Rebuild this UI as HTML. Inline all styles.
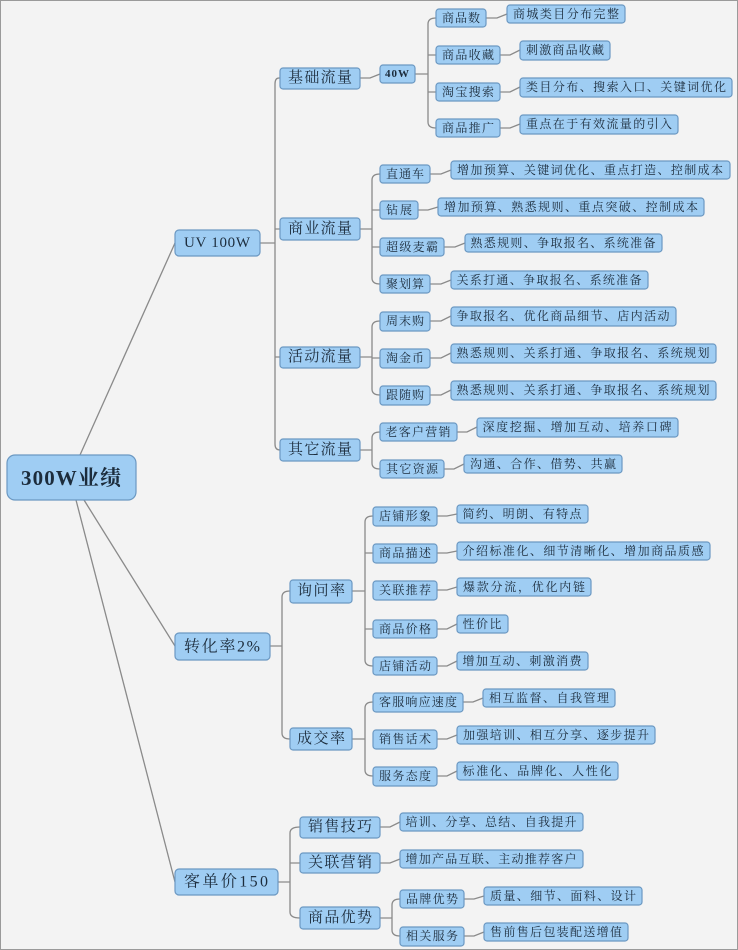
<!DOCTYPE html>
<html><head><meta charset="utf-8"><style>
html,body{margin:0;padding:0;background:#f3f3f3;}
svg{display:block;}
text{font-family:"Liberation Serif","Noto Serif CJK SC","Noto Sans CJK SC",serif;fill:#1c2c3c;dominant-baseline:central;text-anchor:middle;}
rect{fill:#9fcdf3;stroke:#6b98c2;stroke-width:1.2;}
.l{fill:none;stroke:#8a8a8a;stroke-width:1.3;}
</style></head><body>
<svg width="738" height="950" viewBox="0 0 738 950" xmlns="http://www.w3.org/2000/svg">
<rect x="0.5" y="0.5" width="737" height="949" style="fill:#f3f3f3;stroke:#9a9a9a;stroke-width:1"/>
<!-- connectors -->
<g class="l">
<path class="l" d="M80 455 L175 243"/>
<path class="l" d="M84 500 L175 646"/>
<path class="l" d="M76 500 L175 882"/>
<path class="l" d="M260 243 H275 M280 78 H279 Q275 78 275 84 V444 Q275 450 280 450 M275 229 H280 M275 357 H280"/>
<path class="l" d="M360 78 H370 L380 74"/>
<path class="l" d="M415 74 H428 M436 18 Q428 18 428 24 V122 Q428 128 436 128 M428 55 H436 M428 92 H436"/>
<path class="l" d="M486 18 H497 L507 14 M500 55 H510 L520 50 M500 92 H510 L520 87 M500 128 H510 L520 124"/>
<path class="l" d="M360 229 H372 M380 174 Q372 174 372 180 V278 Q372 284 380 284 M372 210 H380 M372 247 H380"/>
<path class="l" d="M430 174 H441 L451 170 M418 210 H428 L438 207 M444 247 H455 L465 243 M430 284 H441 L451 280"/>
<path class="l" d="M360 357 H372 M380 321 Q372 321 372 327 V389 Q372 395 380 395 M372 358 H380"/>
<path class="l" d="M430 321 H441 L451 316 M430 358 H441 L451 353 M430 395 H441 L451 390"/>
<path class="l" d="M360 450 H372 M380 432 Q372 432 372 438 V463 Q372 469 380 469"/>
<path class="l" d="M457 432 H467 L477 427 M444 469 H454 L464 464"/>
<path class="l" d="M270 646 H282 M290 591 Q282 591 282 597 V733 Q282 739 290 739"/>
<path class="l" d="M352 591 H365 M373 516 Q365 516 365 522 V660 Q365 666 373 666 M365 553 H373 M365 629 H373"/>
<path class="l" d="M437 516 H447 L457 514 M437 553 H447 L457 551 M437 590 H447 L457 587 M437 629 H447 L457 624 M437 666 H447 L457 661"/>
<path class="l" d="M352 739 H365 M373 702 Q365 702 365 708 V770 Q365 776 373 776"/>
<path class="l" d="M463 702 H473 L483 698 M437 739 H447 L457 735 M437 776 H447 L457 771"/>
<path class="l" d="M278 882 H290 M300 827 Q290 827 290 833 V912 Q290 918 300 918 M290 863 H300"/>
<path class="l" d="M380 827 H390 L400 822 M380 863 H390 L400 859"/>
<path class="l" d="M380 918 H392 M400 899 Q392 899 392 905 V930 Q392 936 400 936"/>
<path class="l" d="M464 899 H474 L484 896 M464 936 H474 L484 932"/>
</g>
<!-- nodes -->
<rect x="7" y="455" width="129" height="45" rx="8"/><text x="71" y="478" font-size="21" font-weight="bold" textLength="100">300W业绩</text>
<rect x="175" y="230" width="85" height="26" rx="4"/><text x="217" y="243" font-size="15" textLength="66">UV 100W</text>
<rect x="175" y="633" width="95" height="27" rx="4"/><text x="222" y="647" font-size="16" textLength="76">转化率2%</text>
<rect x="175" y="869" width="103" height="26" rx="4"/><text x="226" y="882" font-size="16" textLength="84">客单价150</text>

<rect x="280" y="68" width="80" height="21" rx="3"/><text x="320" y="78" font-size="15" textLength="64">基础流量</text>
<rect x="380" y="65" width="35" height="18" rx="3"/><text x="397" y="74" font-size="11" font-weight="bold" textLength="24">40W</text>
<rect x="436" y="9" width="50" height="18" rx="3"/><text x="461" y="18" font-size="12" textLength="38">商品数</text>
<rect x="436" y="46" width="64" height="18" rx="3"/><text x="468" y="55" font-size="12" textLength="52">商品收藏</text>
<rect x="436" y="83" width="64" height="18" rx="3"/><text x="468" y="92" font-size="12" textLength="52">淘宝搜索</text>
<rect x="436" y="119" width="64" height="18" rx="3"/><text x="468" y="128" font-size="12" textLength="52">商品推广</text>
<rect x="507" y="5" width="118" height="18" rx="3"/><text x="566" y="14" font-size="12" textLength="106">商城类目分布完整</text>
<rect x="520" y="41" width="90" height="19" rx="3"/><text x="565" y="50" font-size="12" textLength="78">刺激商品收藏</text>
<rect x="520" y="78" width="212" height="19" rx="3"/><text x="626" y="87" font-size="12" textLength="200">类目分布、搜索入口、关键词优化</text>
<rect x="520" y="115" width="158" height="19" rx="3"/><text x="599" y="124" font-size="12" textLength="146">重点在于有效流量的引入</text>

<rect x="280" y="218" width="80" height="22" rx="3"/><text x="320" y="229" font-size="15" textLength="64">商业流量</text>
<rect x="380" y="165" width="50" height="18" rx="3"/><text x="405" y="174" font-size="12" textLength="38">直通车</text>
<rect x="380" y="201" width="38" height="18" rx="3"/><text x="399" y="210" font-size="12" textLength="26">钻展</text>
<rect x="380" y="238" width="64" height="18" rx="3"/><text x="412" y="247" font-size="12" textLength="52">超级麦霸</text>
<rect x="380" y="275" width="50" height="18" rx="3"/><text x="405" y="284" font-size="12" textLength="38">聚划算</text>
<rect x="451" y="161" width="279" height="18" rx="3"/><text x="590" y="170" font-size="12" textLength="266">增加预算、关键词优化、重点打造、控制成本</text>
<rect x="438" y="198" width="266" height="18" rx="3"/><text x="571" y="207" font-size="12" textLength="254">增加预算、熟悉规则、重点突破、控制成本</text>
<rect x="465" y="234" width="197" height="18" rx="3"/><text x="563" y="243" font-size="12" textLength="185">熟悉规则、争取报名、系统准备</text>
<rect x="451" y="271" width="197" height="18" rx="3"/><text x="549" y="280" font-size="12" textLength="185">关系打通、争取报名、系统准备</text>

<rect x="280" y="347" width="80" height="21" rx="3"/><text x="320" y="357" font-size="15" textLength="64">活动流量</text>
<rect x="380" y="312" width="50" height="19" rx="3"/><text x="405" y="321" font-size="12" textLength="38">周末购</text>
<rect x="380" y="349" width="50" height="19" rx="3"/><text x="405" y="358" font-size="12" textLength="38">淘金币</text>
<rect x="380" y="386" width="50" height="19" rx="3"/><text x="405" y="395" font-size="12" textLength="38">跟随购</text>
<rect x="451" y="307" width="225" height="19" rx="3"/><text x="563" y="316" font-size="12" textLength="213">争取报名、优化商品细节、店内活动</text>
<rect x="451" y="344" width="265" height="19" rx="3"/><text x="583" y="353" font-size="12" textLength="253">熟悉规则、关系打通、争取报名、系统规划</text>
<rect x="451" y="381" width="265" height="19" rx="3"/><text x="583" y="390" font-size="12" textLength="253">熟悉规则、关系打通、争取报名、系统规划</text>

<rect x="280" y="439" width="80" height="22" rx="3"/><text x="320" y="450" font-size="15" textLength="64">其它流量</text>
<rect x="380" y="423" width="77" height="18" rx="3"/><text x="418" y="432" font-size="12" textLength="65">老客户营销</text>
<rect x="380" y="460" width="64" height="18" rx="3"/><text x="412" y="469" font-size="12" textLength="52">其它资源</text>
<rect x="477" y="418" width="201" height="19" rx="3"/><text x="577" y="427" font-size="12" textLength="189">深度挖掘、增加互动、培养口碑</text>
<rect x="464" y="455" width="158" height="18" rx="3"/><text x="543" y="464" font-size="12" textLength="146">沟通、合作、借势、共赢</text>

<rect x="290" y="580" width="62" height="23" rx="3"/><text x="321" y="591" font-size="15" textLength="48">询问率</text>
<rect x="373" y="507" width="64" height="19" rx="3"/><text x="405" y="516" font-size="12" textLength="52">店铺形象</text>
<rect x="373" y="544" width="64" height="19" rx="3"/><text x="405" y="553" font-size="12" textLength="52">商品描述</text>
<rect x="373" y="581" width="64" height="19" rx="3"/><text x="405" y="590" font-size="12" textLength="52">关联推荐</text>
<rect x="373" y="620" width="64" height="18" rx="3"/><text x="405" y="629" font-size="12" textLength="52">商品价格</text>
<rect x="373" y="657" width="64" height="18" rx="3"/><text x="405" y="666" font-size="12" textLength="52">店铺活动</text>
<rect x="457" y="505" width="131" height="18" rx="3"/><text x="522" y="514" font-size="12" textLength="119">简约、明朗、有特点</text>
<rect x="457" y="542" width="253" height="18" rx="3"/><text x="583" y="551" font-size="12" textLength="241">介绍标准化、细节清晰化、增加商品质感</text>
<rect x="457" y="578" width="134" height="18" rx="3"/><text x="524" y="587" font-size="12" textLength="122">爆款分流，优化内链</text>
<rect x="457" y="615" width="51" height="18" rx="3"/><text x="482" y="624" font-size="12" textLength="39">性价比</text>
<rect x="457" y="652" width="131" height="18" rx="3"/><text x="522" y="661" font-size="12" textLength="119">增加互动、刺激消费</text>

<rect x="290" y="728" width="62" height="22" rx="3"/><text x="321" y="739" font-size="15" textLength="48">成交率</text>
<rect x="373" y="693" width="90" height="19" rx="3"/><text x="418" y="702" font-size="12" textLength="78">客服响应速度</text>
<rect x="373" y="730" width="64" height="19" rx="3"/><text x="405" y="739" font-size="12" textLength="52">销售话术</text>
<rect x="373" y="767" width="64" height="19" rx="3"/><text x="405" y="776" font-size="12" textLength="52">服务态度</text>
<rect x="483" y="689" width="132" height="18" rx="3"/><text x="549" y="698" font-size="12" textLength="120">相互监督、自我管理</text>
<rect x="457" y="726" width="198" height="18" rx="3"/><text x="556" y="735" font-size="12" textLength="186">加强培训、相互分享、逐步提升</text>
<rect x="457" y="762" width="161" height="18" rx="3"/><text x="537" y="771" font-size="12" textLength="149">标准化、品牌化、人性化</text>

<rect x="300" y="817" width="80" height="21" rx="3"/><text x="340" y="827" font-size="15" textLength="64">销售技巧</text>
<rect x="300" y="853" width="80" height="20" rx="3"/><text x="340" y="863" font-size="15" textLength="64">关联营销</text>
<rect x="300" y="907" width="80" height="22" rx="3"/><text x="340" y="918" font-size="15" textLength="64">商品优势</text>
<rect x="400" y="813" width="183" height="18" rx="3"/><text x="491" y="822" font-size="12" textLength="171">培训、分享、总结、自我提升</text>
<rect x="400" y="850" width="183" height="18" rx="3"/><text x="491" y="859" font-size="12" textLength="171">增加产品互联、主动推荐客户</text>
<rect x="400" y="890" width="64" height="18" rx="3"/><text x="432" y="899" font-size="12" textLength="52">品牌优势</text>
<rect x="400" y="927" width="64" height="19" rx="3"/><text x="432" y="936" font-size="12" textLength="52">相关服务</text>
<rect x="484" y="887" width="158" height="18" rx="3"/><text x="563" y="896" font-size="12" textLength="146">质量、细节、面料、设计</text>
<rect x="484" y="923" width="144" height="18" rx="3"/><text x="556" y="932" font-size="12" textLength="132">售前售后包装配送增值</text>
</svg>
</body></html>
